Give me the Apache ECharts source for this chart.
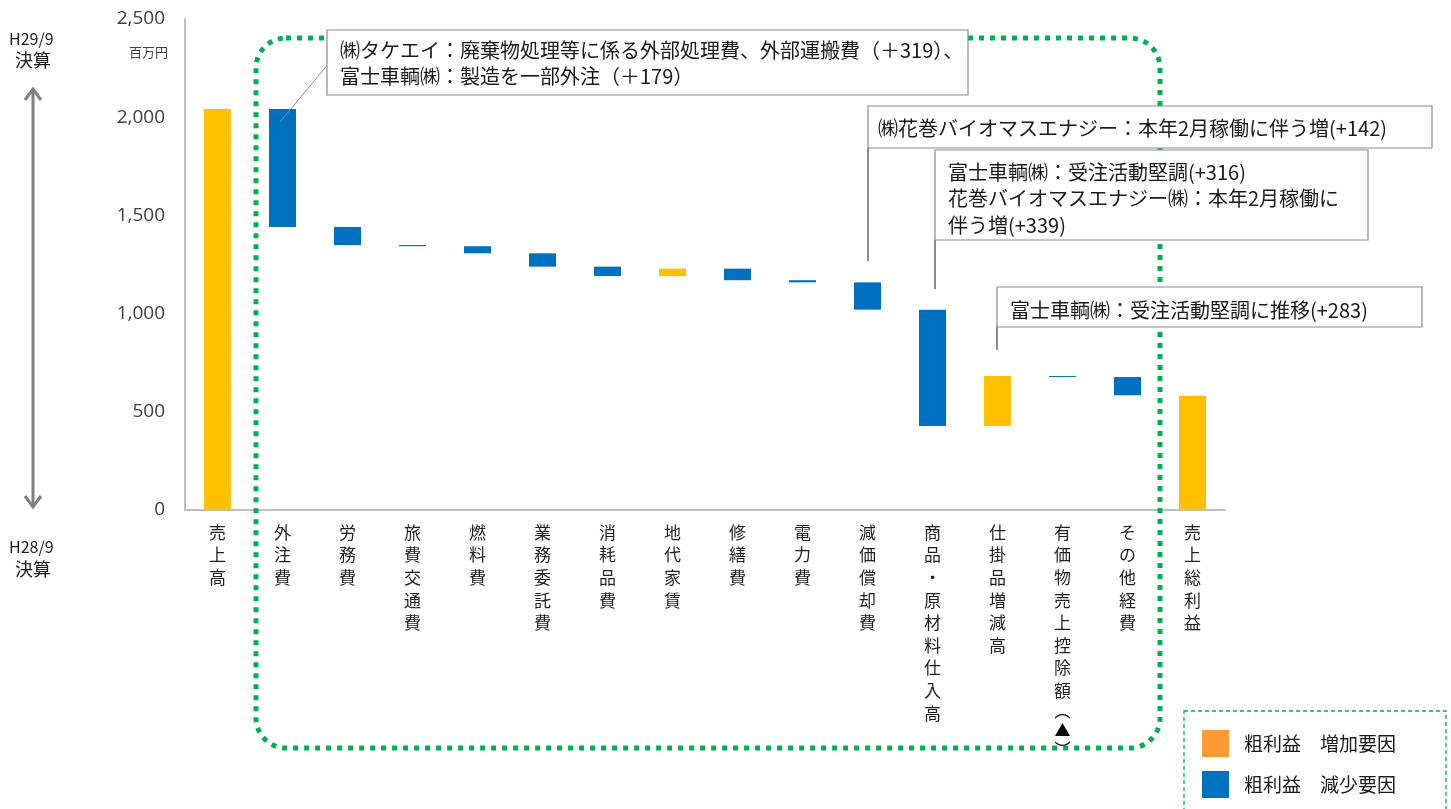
<!DOCTYPE html>
<html><head><meta charset="utf-8">
<script src="https://cdn.jsdelivr.net/npm/echarts@6/dist/echarts.min.js"></script>
<style>html,body{margin:0;padding:0;background:#fff}#c{width:1451px;height:809px}</style>
</head><body><div id="c"></div>
<script>
const categories = ['売上高','外注費','労務費','旅費交通費','燃料費','業務委託費','消耗品費','地代家賃','修繕費','電力費','減価償却費','商品・原材料仕入高','仕掛品増減高','有価物売上控除額︵▲︶','その他経費','売上総利益'];
// invisible base of each floating bar (百万円)
const baseValues     = [0, 1441, 1349, 1343, 1307, 1239, 1191, 1191, 1170, 1159, 1020, 428, 428, 677, 584, 0];
// gross-profit increasing factors (yellow)
const increaseValues = [2042, '-', '-', '-', '-', '-', '-', 38, '-', '-', '-', '-', 254, '-', '-', 582];
// gross-profit decreasing factors (blue)
const decreaseValues = ['-', 601, 92, 6, 36, 68, 48, '-', 59, 11, 139, 592, '-', 5, 93, '-'];
const yTicks = [0, 500, 1000, 1500, 2000, 2500];

const FONT = '"Noto Sans CJK JP", "Noto Sans", sans-serif';
const chart = echarts.init(document.getElementById('c'));
const txt = (x, y, s, size, extra) => ({type:'text', x, y, z:20, style:Object.assign({text:s, fontSize:size, fontFamily:FONT, fill:'#1a1a1a', verticalAlign:'middle'}, extra||{})});
const box = (x, y, w, h) => ({type:'rect', shape:{x, y, width:w, height:h}, style:{fill:'#fff', stroke:'#8c8c8c', lineWidth:1.2}, z:10});
const line = (pts, color, w, z) => ({type:'polyline', shape:{points:pts}, style:{stroke:color||'#8c8c8c', lineWidth:w||1.5, fill:null}, z:z||9});
const compact = {'︵':1, '▲':1, '︶':1};

chart.setOption({
  animation:false,
  textStyle:{fontFamily:FONT},
  grid:{left:185, top:19, width:1040, height:491, containLabel:false},
  xAxis:{type:'category', data:categories,
    axisLine:{lineStyle:{color:'#bfbfbf', width:2}}, axisTick:{show:false},
    axisLabel:{interval:0, margin:11, fontSize:17, lineHeight:22.6, color:'#1f1f1f', fontFamily:FONT,
      formatter:v => v.split('').map(c => compact[c] ? '{s|' + c + '}' : c).join('\n'),
      rich:{s:{fontSize:16, lineHeight:19, color:'#000', fontFamily:FONT}}}},
  yAxis:{type:'value', min:0, max:2500, interval:500,
    axisLine:{show:true, lineStyle:{color:'#bfbfbf', width:2}}, axisTick:{show:false}, splitLine:{show:false},
    axisLabel:{margin:20, fontSize:19, color:'#404040', fontFamily:'"Open Sans", sans-serif',
      formatter:v => v.toLocaleString('en-US')}},
  legend:{orient:'vertical', left:1197, top:725, itemWidth:27, itemHeight:27, itemGap:14,
    textStyle:{fontSize:19, color:'#1a1a1a', fontFamily:FONT, padding:[0,0,0,10]},
    data:[{name:'粗利益　増加要因', itemStyle:{color:'#FF9933'}, icon:'rect'},
          {name:'粗利益　減少要因', itemStyle:{color:'#0070C0'}, icon:'rect'}]},
  series:[
    {type:'bar', name:'base', stack:'w', data:baseValues, itemStyle:{color:'transparent'}, barWidth:27, silent:true},
    {type:'bar', name:'粗利益　増加要因', stack:'w', data:increaseValues, itemStyle:{color:'#FFC000'}, barWidth:27},
    {type:'bar', name:'粗利益　減少要因', stack:'w', data:decreaseValues, itemStyle:{color:'#0070C0'}, barWidth:27, barMinHeight:1}
  ],
  graphic:[
    // left period labels and double arrow
    txt(9, 39, 'H29/9', 16), txt(15, 60, '決算', 18),
    txt(9, 547, 'H28/9', 16), txt(15, 569, '決算', 18),
    line([[33,90],[33,506]], '#7f7f7f', 3, 5),
    line([[25,100],[33,89],[41,100]], '#7f7f7f', 3, 5),
    line([[25,496],[33,507],[41,496]], '#7f7f7f', 3, 5),
    txt(129, 52, '百万円', 13, {fill:'#404040'}),
    // green dotted rounded frame
    {type:'rect', shape:{x:256, y:38, width:904, height:710, r:30}, z:1,
      style:{fill:null, stroke:'#00B050', lineWidth:5, lineDash:[5,6]}},
    // annotation 1
    line([[330,62],[280,122]], '#8c8c8c', 1, 9),
    box(327, 30, 641, 65),
    txt(340, 50, '㈱タケエイ：廃棄物処理等に係る外部処理費、外部運搬費（＋319）、', 20),
    txt(340, 76, '富士車輌㈱：製造を一部外注（＋179）', 20),
    // annotation 2
    line([[868,148],[868,261]], '#8c8c8c', 2, 9),
    box(868, 106, 564, 42),
    txt(878, 128, '㈱花巻バイオマスエナジー：本年2月稼働に伴う増(+142)', 20),
    // annotation 3
    line([[935,240],[935,289]], '#8c8c8c', 2, 9),
    box(935, 150, 433, 90),
    txt(948, 172, '富士車輌㈱：受注活動堅調(+316)', 20),
    txt(948, 198, '花巻バイオマスエナジー㈱：本年2月稼働に', 20),
    txt(948, 225, '伴う増(+339)', 20),
    // annotation 4
    line([[997,327],[997,350]], '#8c8c8c', 2, 9),
    box(997, 287, 425, 40),
    txt(1010, 310, '富士車輌㈱：受注活動堅調に推移(+283)', 20),
    // legend frame
    {type:'rect', shape:{x:1184, y:711, width:262, height:100}, z:1,
      style:{fill:null, stroke:'#00B050', lineWidth:1.3, lineDash:[4,3]}}
  ]
});
</script></body></html>
